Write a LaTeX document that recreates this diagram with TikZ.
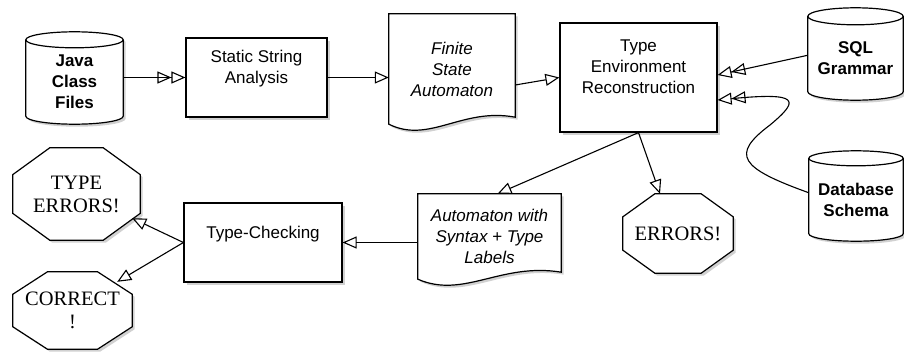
\documentclass[tikz,border=0pt]{standalone}
\usepackage{fontspec}
\setmainfont{Liberation Serif}
\setsansfont{Liberation Sans}
\usetikzlibrary{arrows.meta,shadows,calc,backgrounds}
\tikzset{
  shp/.style={draw=black, fill=white, line width=1.2pt, line join=miter,
    drop shadow={shadow xshift=2.5pt, shadow yshift=-2.5pt, fill=black!60, opacity=0.3}},
  sans/.style={font=\sffamily\fontsize{17}{21}\selectfont, align=center},
  sansb/.style={font=\sffamily\bfseries\fontsize{17}{21}\selectfont, align=center},
  sansi/.style={font=\sffamily\itshape\fontsize{17}{21}\selectfont, align=center},
  serif/.style={font=\rmfamily\fontsize{20.5}{23}\selectfont, align=center},
  area/.style={draw=none, inner sep=0pt, minimum width=#1},
  boxnode/.style={shp, sans, inner sep=0pt},
  conn/.style={line width=1.1pt, -{Triangle[open,length=14pt,width=12pt]}},
  conn2/.style={line width=1.1pt, -{Triangle[open,length=14pt,width=12pt] Triangle[open,length=14pt,width=12pt]}},
}
\newcommand\cylpath[2]{%
  \path[shp] let \p1=(#1.north west), \p2=(#1.south east), \n1={(\x2-\x1)/2} in
    (\x1,\y1) -- (\x1,{\y2+#2pt}) arc[start angle=180, end angle=360, x radius=\n1, y radius=#2pt]
    -- (\x2,\y1) arc[start angle=0, end angle=180, x radius=\n1, y radius=#2pt] -- cycle;
  \draw[line width=1.2pt] let \p1=(#1.north west), \p2=(#1.south east), \n1={(\x2-\x1)/2} in
    (\x1,\y1) arc[start angle=180, end angle=360, x radius=\n1, y radius=#2pt];
}
\newcommand\octpath[1]{%
  \path[shp] let \p1=(#1.north west), \p2=(#1.south east), \n1={0.29*(\x2-\x1)}, \n2={0.29*(\y1-\y2)} in
    ({\x1+\n1},\y1) -- ({\x2-\n1},\y1) -- (\x2,{\y1-\n2}) -- (\x2,{\y2+\n2})
    -- ({\x2-\n1},\y2) -- ({\x1+\n1},\y2) -- (\x1,{\y2+\n2}) -- (\x1,{\y1-\n2}) -- cycle;
}
\newcommand\docpath[1]{%
  \path[shp] let \p1=(#1.north west), \p2=(#1.south east), \n1={\x2-\x1} in
    (\x1,\y1) -- (\x2,\y1) -- (\x2,{\y2+7pt})
    .. controls ({\x2-0.42*\n1},{\y2+17pt}) and ({\x1+0.32*\n1},{\y2-20pt}) .. (\x1,\y2) -- cycle;
}
\begin{document}
\begin{tikzpicture}[x=1pt,y=-1pt]
\useasboundingbox (0,0) rectangle (904,351);

% cylinders
\node[area=97pt, minimum height=84pt, sansb] (java) at (74.5,82) {Java\\Class\\Files};
\node[area=95pt, minimum height=83.5pt, sansb] (sql) at (855.5,58.25) {SQL\\Grammar};
\node[area=94pt, minimum height=82.5pt, sansb] (db) at (856,199.75) {Database\\Schema};

% documents
\node[area=126pt, minimum height=110pt, sansi] (fsa) at (452,69) {Finite\\State\\Automaton};
\node[area=143pt, minimum height=85pt, sansi] (auto) at (489.5,236.5) {Automaton with\\Syntax + Type\\Labels};

% octagons
\node[area=127pt, minimum height=92pt, serif] (te) at (76.5,194) {TYPE\\ERRORS!};
\node[area=110pt, minimum height=79pt, serif] (err) at (678,233.5) {ERRORS!};
\node[area=119pt, minimum height=77pt, serif] (cor) at (72.5,310.5) {CORRECT\\!};

% process boxes
\node[boxnode, minimum width=141pt, minimum height=79pt] (ssa) at (256.5,77.5) {Static String\\Analysis\\\mbox{}};
\node[boxnode, minimum width=157pt, minimum height=109pt] (ter) at (638.5,77.5) {Type\\Environment\\Reconstruction\\\mbox{}};
\node[boxnode, minimum width=158pt, minimum height=79pt] (tc) at (263,242.5) {Type-Checking\\\mbox{}};

\begin{scope}[on background layer]
  \cylpath{java}{8}
  \cylpath{sql}{8.5}
  \cylpath{db}{7.5}
  \docpath{fsa}
  \docpath{auto}
  \octpath{te}
  \octpath{err}
  \octpath{cor}
\end{scope}

% connectors
\draw[conn2] (java.east |- ssa.west) -- (ssa.west);
\draw[conn] (ssa.east) -- (ssa.east -| fsa.west);
\draw[conn] ($(fsa.east)+(0,16)$) -- (ter.west);
\draw[conn2] ($(sql.west)+(0,-3)$) -- ($(ter.east)+(0,-2.5)$);
\draw[conn2] ($(db.west)+(0,-7)$) .. controls (740,168) and (730,155) .. (770,125)
   .. controls (800,100) and (800,92) .. ($(ter.east)+(0,22.5)$);
\draw[conn] (ter.south) -- ($(auto.north)+(8,0)$);
\draw[conn] (ter.south) -- ($(err.north)+(-18,0)$);
\draw[conn] (auto.west |- tc.east) -- (tc.east);
\draw[conn] (tc.west) -- ($(te.south east)+(-8,-22)$);
\draw[conn] (tc.west) -- ($(cor.north east)+(-15,10)$);
\end{tikzpicture}
\end{document}
